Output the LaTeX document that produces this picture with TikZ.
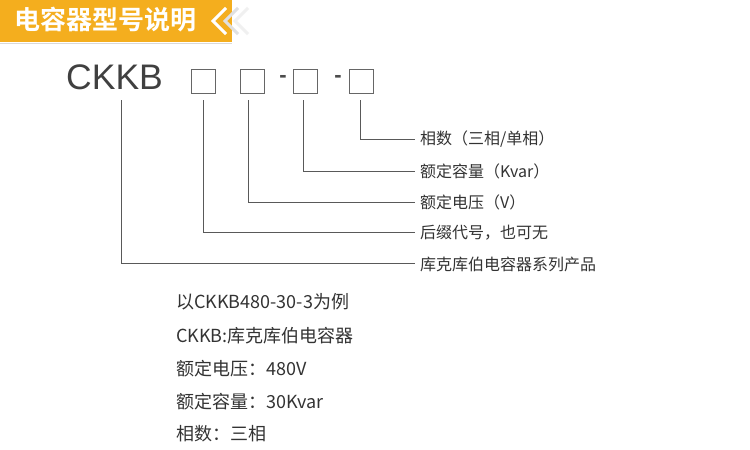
\documentclass[tikz,border=0pt]{standalone}
\usepackage{fontspec}
\setmainfont{Noto Sans CJK SC}
\newfontfamily\hdr{Noto Sans CJK SC Bold}
\newfontfamily\lat{Liberation Sans}
\definecolor{hdrc}{HTML}{F4AE1E}
\begin{document}
\begin{tikzpicture}[x=1pt,y=-1pt,
  ln/.style={draw=black!65,line width=0.8pt},
  bx/.style={draw=black!60,line width=0.8pt,minimum width=24pt,minimum height=24pt,inner sep=0},
  lab/.style={anchor=west,font=\fontsize{16}{16}\selectfont,text=black!80,inner sep=0},
  ex/.style={anchor=west,font=\fontsize{18}{18}\selectfont,text=black!80,inner sep=0}]
\useasboundingbox[fill=white] (0,0) rectangle (750,450);
\fill[hdrc] (0,0) rectangle (232,42);
\draw[black!15,line width=0.6pt] (0,43) -- (232,43);
\draw[white,line width=3pt] (226,8) -- (213,21) -- (226,34);
\draw[black!12,line width=3pt] (238,8) -- (225,21) -- (238,34);
\draw[black!6,line width=3pt] (248,8) -- (235,21) -- (248,34);
\node[anchor=west,text=white,font=\hdr\fontsize{26}{26}\selectfont,inner sep=0] (h) at (14,20) {电容器型号说明};
\node[anchor=west,inner sep=0,text=black!75,font=\lat\fontsize{35.5}{35.5}\selectfont] (ck) at (66,77) {CKKB};
\node[bx] (b1) at (203,81) {};
\node[bx] (b2) at (252,81) {};
\node[bx] (b3) at (305,81) {};
\node[bx] (b4) at (361,81) {};
\node[text=black!70,font=\lat\bfseries\fontsize{22}{22}\selectfont,inner sep=0] (d1) at (283,79) {-};
\node[text=black!70,font=\lat\bfseries\fontsize{22}{22}\selectfont,inner sep=0] (d2) at (338,79) {-};
\node[lab] (l4) at (420,139) {相数（三相/单相）};
\node[lab] (l3) at (420,171) {额定容量（Kvar）};
\node[lab] (l2) at (420,202) {额定电压（V）};
\node[lab] (l1) at (420,233) {后缀代号，也可无};
\node[lab] (l0) at (420,264) {库克库伯电容器系列产品};
\coordinate (e4) at (415,139);\coordinate (e3) at (415,171);\coordinate (e2) at (415,202);
\coordinate (e1) at (415,232);\coordinate (e0) at (415,263);
\draw[ln] (360,100) |- (e4);
\draw[ln] (303,100) |- (e3);
\draw[ln] (248,100) |- (e2);
\draw[ln] (203,100) |- (e1);
\draw[ln] (121,100) |- (e0);
\node[ex] (t1) at (176,302) {以CKKB480-30-3为例};
\node[ex] (t2) at (176,336) {CKKB:库克库伯电容器};
\node[ex] (t3) at (176,369) {额定电压：480V};
\node[ex] (t4) at (176,402) {额定容量：30Kvar};
\node[ex] (t5) at (176,434) {相数：三相};
\end{tikzpicture}
\end{document}
